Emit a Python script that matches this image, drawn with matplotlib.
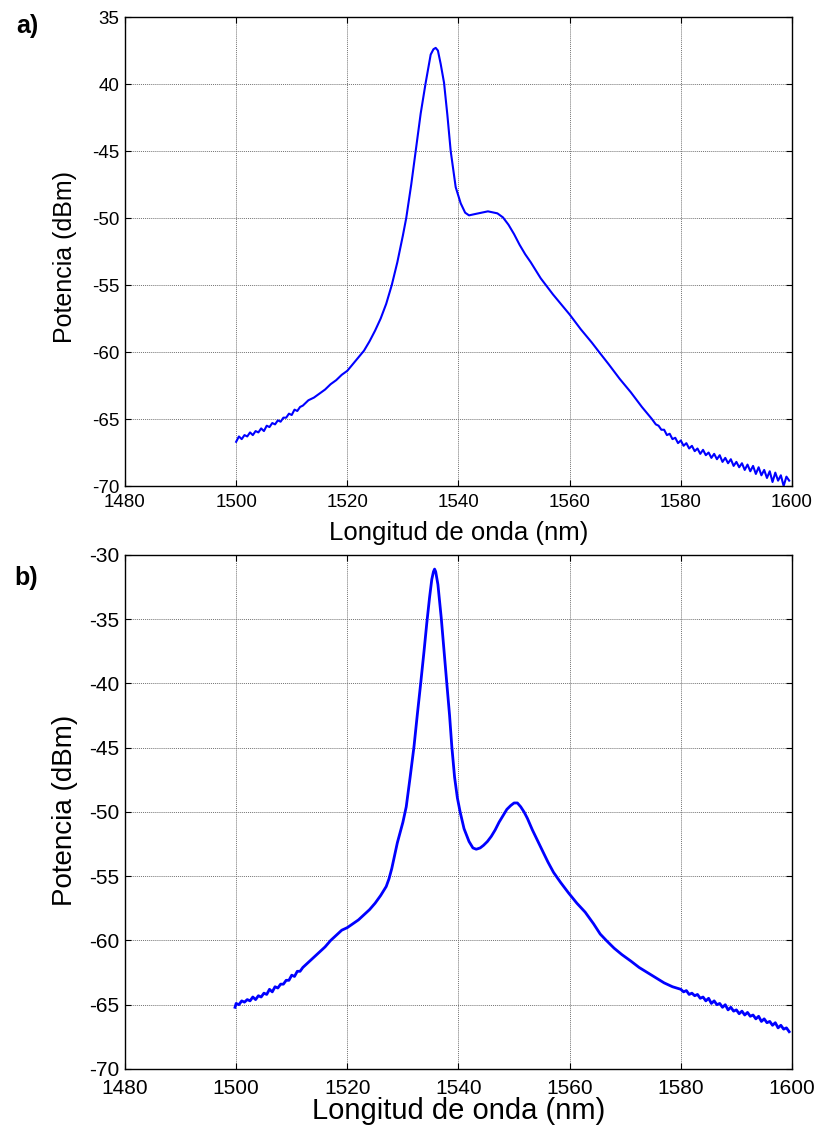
import matplotlib
matplotlib.use("Agg")
import matplotlib.pyplot as plt

plt.rcParams['font.family'] = ['Liberation Sans', 'DejaVu Sans']

# espectro a)
wl_a = [1500.0, 1500.5, 1501.0, 1501.5, 1502.0, 1502.5, 1503.0, 1503.5, 1504.0, 1504.5,
        1505.0, 1505.5, 1506.0, 1506.5, 1507.0, 1507.5, 1508.0, 1508.5, 1509.0, 1509.5,
        1510.0, 1510.5, 1511.0, 1511.5, 1512.0, 1513, 1514, 1515, 1516, 1517,
        1518, 1519, 1520, 1521, 1522, 1523, 1524, 1525, 1526, 1527,
        1528, 1529, 1530, 1530.6, 1531.5, 1532.3, 1533.2, 1534.1, 1535, 1535.5,
        1535.9, 1536.3, 1536.8, 1537.4, 1538, 1538.6, 1539.5, 1540.4, 1541.2, 1541.9,
        1543, 1545.3, 1547, 1548, 1549, 1550, 1551, 1552, 1553, 1554.8,
        1557, 1560, 1562, 1564, 1565.3, 1567, 1569, 1571, 1573, 1574.8,
        1575.5, 1576.0, 1576.5, 1577.0, 1577.5, 1578.0, 1578.5, 1579.0, 1579.5,
        1580.0, 1580.5, 1581.0, 1581.5, 1582.0, 1582.5, 1583.0, 1583.5, 1584.0, 1584.5,
        1585.0, 1585.5, 1586.0, 1586.5, 1587.0, 1587.5, 1588.0, 1588.5, 1589.0, 1589.5,
        1590.0, 1590.5, 1591.0, 1591.5, 1592.0, 1592.5, 1593.0, 1593.5, 1594.0, 1594.5,
        1595.0, 1595.5, 1596.0, 1596.5, 1597.0, 1597.5, 1598.0, 1598.5, 1599.0, 1599.5]
pw_a = [-66.7, -66.3, -66.5, -66.2, -66.3, -66.0, -66.2, -65.9, -66.0, -65.7,
        -65.9, -65.5, -65.6, -65.3, -65.4, -65.1, -65.2, -64.9, -64.9, -64.6,
        -64.7, -64.3, -64.4, -64.1, -64.0, -63.6, -63.4, -63.1, -62.8, -62.4,
        -62.1, -61.7, -61.4, -60.9, -60.4, -59.9, -59.2, -58.4, -57.5, -56.4,
        -55.0, -53.3, -51.3, -50.0, -47.5, -45.0, -42.2, -39.9, -37.8, -37.4,
        -37.3, -37.5, -38.5, -39.9, -42.3, -45.0, -47.7, -48.9, -49.6, -49.8,
        -49.7, -49.5, -49.65, -49.95, -50.5, -51.2, -52.0, -52.7, -53.3, -54.5,
        -55.7, -57.2, -58.3, -59.3, -60.0, -60.9, -62.0, -63.0, -64.1, -65.0,
        -65.4, -65.5, -65.8, -65.8, -66.2, -66.1, -66.5, -66.4, -66.8,
        -66.6, -67.0, -66.8, -67.2, -67.0, -67.4, -67.2, -67.6, -67.3, -67.7,
        -67.5, -67.9, -67.6, -68.0, -67.7, -68.2, -67.9, -68.3, -68.0, -68.5,
        -68.2, -68.6, -68.3, -68.8, -68.4, -68.9, -68.5, -69.1, -68.6, -69.2,
        -68.8, -69.4, -68.9, -69.7, -69.0, -69.6, -69.2, -70.0, -69.3, -69.6]

# espectro b)
wl_b = [1499.8, 1500.0, 1500.5, 1501.0, 1501.5, 1502.0, 1502.5, 1503.0, 1503.5, 1504.0,
        1504.5, 1505.0, 1505.5, 1506.0, 1506.5, 1507.0, 1507.5, 1508.0, 1508.5, 1509.0,
        1509.5, 1510.0, 1510.5, 1511.0, 1511.5, 1512.0, 1513, 1514, 1515, 1516,
        1517, 1518, 1519, 1520, 1521, 1522, 1523, 1524, 1525, 1526,
        1527, 1527.5, 1528, 1528.5, 1529, 1529.5, 1530, 1530.6, 1531.3, 1532,
        1532.6, 1533.2, 1533.8, 1534.3, 1534.8, 1535.2, 1535.5, 1535.7, 1535.9, 1536.3,
        1536.9, 1537.4, 1537.9, 1538.4, 1538.8, 1539.3, 1539.8, 1540.3, 1541, 1541.9,
        1542.6, 1543.2, 1543.9, 1544.5, 1545.2, 1545.9, 1546.6, 1547.3, 1548, 1548.7,
        1549.4, 1550.0, 1550.6, 1551.2, 1551.8, 1552.4, 1553.3, 1554.3, 1555.2, 1556.1,
        1557.1, 1558.4, 1559.8, 1561.3, 1562.8, 1564.3, 1565.5, 1566.6, 1568, 1569.4,
        1571, 1572.5, 1574, 1575.5, 1577, 1578.5,
        1580.0, 1580.5, 1581.0, 1581.5, 1582.0, 1582.5, 1583.0, 1583.5, 1584.0, 1584.5,
        1585.0, 1585.5, 1586.0, 1586.5, 1587.0, 1587.5, 1588.0, 1588.5, 1589.0, 1589.5,
        1590.0, 1590.5, 1591.0, 1591.5, 1592.0, 1592.5, 1593.0, 1593.5, 1594.0, 1594.5,
        1595.0, 1595.5, 1596.0, 1596.5, 1597.0, 1597.5, 1598.0, 1598.5, 1599.0, 1599.5]
pw_b = [-65.2, -64.9, -65.0, -64.7, -64.8, -64.6, -64.7, -64.4, -64.6, -64.3,
        -64.4, -64.1, -64.2, -63.8, -64.0, -63.6, -63.7, -63.4, -63.4, -63.1,
        -63.1, -62.7, -62.8, -62.4, -62.4, -62.1, -61.7, -61.3, -60.9, -60.5,
        -60.0, -59.6, -59.2, -59.0, -58.7, -58.4, -58.0, -57.6, -57.1, -56.5,
        -55.8, -55.2, -54.4, -53.4, -52.4, -51.6, -50.8, -49.6, -47.3, -44.9,
        -42.4, -40.0, -37.5, -35.3, -33.3, -31.9, -31.3, -31.1, -31.3, -32.3,
        -34.9, -37.5, -40.0, -42.5, -44.9, -47.3, -48.9, -50.0, -51.3, -52.3,
        -52.8, -52.9, -52.8, -52.6, -52.3, -51.9, -51.4, -50.8, -50.3, -49.8,
        -49.5, -49.3, -49.3, -49.6, -50.0, -50.5, -51.4, -52.3, -53.1, -53.9,
        -54.7, -55.5, -56.3, -57.1, -57.8, -58.7, -59.5, -60.0, -60.6, -61.1,
        -61.6, -62.1, -62.5, -62.9, -63.3, -63.6,
        -63.8, -64.0, -63.9, -64.2, -64.1, -64.3, -64.2, -64.5, -64.4, -64.7,
        -64.5, -64.9, -64.7, -65.0, -64.9, -65.2, -65.0, -65.4, -65.2, -65.5,
        -65.4, -65.7, -65.5, -65.8, -65.6, -65.9, -65.8, -66.1, -65.9, -66.3,
        -66.1, -66.4, -66.3, -66.6, -66.4, -66.8, -66.6, -66.9, -66.8, -67.1]

x_ticks = [1480, 1500, 1520, 1540, 1560, 1580, 1600]
y_ticks_a = [-35, -40, -45, -50, -55, -60, -65, -70]
y_labels_a = ['35', '40', '-45', '-50', '-55', '-60', '-65', '-70']
y_ticks_b = [-30, -35, -40, -45, -50, -55, -60, -65, -70]
y_labels_b = ['-30', '-35', '-40', '-45', '-50', '-55', '-60', '-65', '-70']

xlabel = "Longitud de onda (nm)"
ylabel = "Potencia (dBm)"


def style_axes(ax, yticks, ylabels, tick_fs, xpad):
    ax.set_xlim(1480, 1600)
    ax.set_ylim(yticks[-1], yticks[0])
    ax.set_xticks(x_ticks)
    ax.set_yticks(yticks)
    ax.set_yticklabels(ylabels)
    ax.tick_params(direction='in', length=4, width=0.8, top=True, right=True,
                   labelsize=tick_fs, pad=4, colors='black')
    ax.tick_params(axis='x', pad=xpad)
    ax.grid(True, color='0.45', linestyle=(0, (1, 1)), linewidth=0.7)
    for s in ax.spines.values():
        s.set_linewidth(1.0)
        s.set_color('black')


fig = plt.figure(figsize=(8.19, 11.30), dpi=100)

ax1 = fig.add_axes([0.1526, 0.5699, 0.8144, 0.4150])
ax1.plot(wl_a, pw_a, color='#0000ff', linewidth=1.5)
style_axes(ax1, y_ticks_a, y_labels_a, 13.5, 6)
ax1.text(0.5, -0.100, xlabel, transform=ax1.transAxes, ha='center', va='center', fontsize=18.5)
ax1.text(-0.090, 0.488, ylabel, transform=ax1.transAxes, ha='center', va='center',
         rotation=90, fontsize=18)

ax2 = fig.add_axes([0.1526, 0.0540, 0.8144, 0.4549])
ax2.plot(wl_b, pw_b, color='#0000ff', linewidth=2.0)
style_axes(ax2, y_ticks_b, y_labels_b, 15, 7)
ax2.text(0.5, -0.082, xlabel, transform=ax2.transAxes, ha='center', va='center', fontsize=21)
ax2.text(-0.090, 0.504, ylabel, transform=ax2.transAxes, ha='center', va='center',
         rotation=90, fontsize=20)

fig.text(27 / 819, 1 - 26 / 1130, "a)", ha='center', va='center', fontsize=18, fontweight='bold')
fig.text(26 / 819, 1 - 578 / 1130, "b)", ha='center', va='center', fontsize=18, fontweight='bold')

fig.savefig("out.png", dpi=100)
